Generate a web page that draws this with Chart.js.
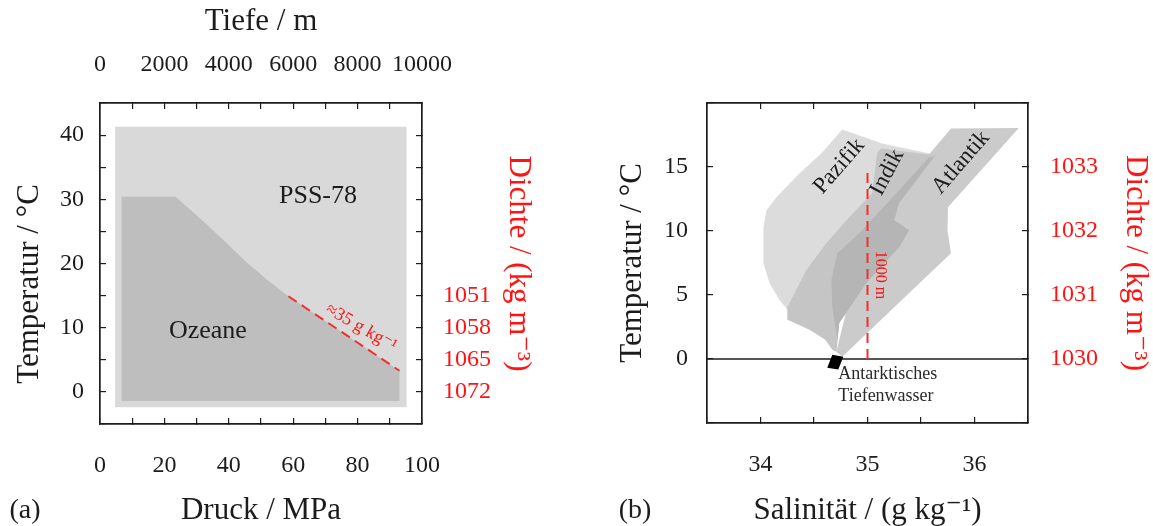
<!DOCTYPE html>
<html>
<head>
<meta charset="utf-8">
<script src="https://cdn.jsdelivr.net/npm/chart.js@4.4.1/dist/chart.umd.min.js"></script>
<style>
  html, body { margin: 0; padding: 0; background: #ffffff; }
  #wrap { position: relative; width: 1153px; height: 526px; }
  canvas { position: absolute; top: 0; }
  #chartA { left: 0; }
  #chartB { left: 576px; }
</style>
</head>
<body>
<div id="wrap">
  <canvas id="chartA" width="576" height="526"></canvas>
  <canvas id="chartB" width="577" height="526"></canvas>
</div>
<script>
// ---------- (a) validity range of PSS-78 vs. conditions in the oceans ----------
const pressureLabels = [0, 20, 40, 60, 80, 100];            // MPa
const depthLabels = [0, 2000, 4000, 6000, 8000, 10000];     // m
const tempLabelsA = [0, 10, 20, 30, 40];                    // °C
const densityTempsA = [0, 5, 10, 15];                       // °C positions of density labels
const densityValuesA = [1072, 1065, 1058, 1051];            // kg m^-3

const pssPressure = [4.7, 95.2, 95.2, 4.7];
const pssTemp = [-2.4, -2.4, 41.3, 41.3];

const oceanPressure = [6.7, 93.0, 93.0, 58.5, 51.8, 45.5, 39.3, 33.1, 27.9, 23.5, 6.7];
const oceanTemp = [-1.4, -1.4, 3.3, 14.9, 17.5, 20.2, 23.2, 26.1, 28.4, 30.4, 30.4];

const isohalinePressure = [58.5, 93.0];
const isohalineTemp = [14.9, 3.3];

// ---------- (b) T–S envelopes of the three oceans ----------
const salinityLabels = [34, 35, 36];                        // g kg^-1
const tempLabelsB = [0, 5, 10, 15];                         // °C
const densityTempsB = [0, 5, 10, 15];
const densityValuesB = [1030, 1031, 1032, 1033];

const pacificS = [34.764, 35.137, 35.622, 35.295, 34.923, 34.736, 34.708, 34.606, 34.438, 34.252,
                  34.252, 34.177, 34.084, 34.028, 34.028, 34.056, 34.149, 34.363, 34.568];
const pacificT = [17.92, 16.83, 15.98, 12.40, 7.73, 3.06, 0.57, 1.50, 2.51, 3.06,
                  3.84, 4.61, 5.94, 7.49, 10.30, 11.62, 12.63, 14.50, 16.05];

const atlanticS = [35.780, 36.414, 35.752, 35.743, 35.752, 35.780, 34.764, 34.708, 34.923, 35.575];
const atlanticT = [18.00, 18.04, 11.86, 11.08, 10.06, 8.27, 0.18, 0.57, 7.73, 15.98];

const indianS = [35.090, 35.128, 35.640, 35.295, 35.249, 35.389, 35.295, 34.988, 34.736, 34.708,
                 34.671, 34.606, 34.457, 34.252, 34.252, 34.429, 34.615, 34.829, 35.044];
const indianT = [16.10, 16.44, 15.90, 12.18, 10.84, 10.06, 8.74, 5.94, 2.82, 0.57,
                 0.72, 1.50, 2.28, 3.06, 4.07, 6.95, 9.05, 11.07, 12.95];

const overlapS = [35.575, 35.622, 35.295, 35.249, 35.389, 35.295, 34.988, 34.736, 34.708,
                  34.718, 34.671, 34.662, 34.718, 34.923, 35.295];
const overlapT = [15.74, 15.82, 12.18, 10.84, 10.06, 8.74, 5.94, 2.82, 0.57,
                  1.50, 4.07, 6.17, 8.27, 9.83, 13.18];

const aabwS = [34.671, 34.774, 34.727, 34.624];
const aabwT = [0.33, 0.18, -0.83, -0.68];

const isobathS = [35, 35];
const isobathT = [0, 14.9];

const freezingRefS = [33.5, 36.5];
const freezingRefT = [0, 0];

// ---------- styling helpers ----------
const SERIF = '"Liberation Serif", "DejaVu Serif", serif';
const INK = '#1c1c1c';
const RED = '#ff1414';

function toPoints(xs, ys, close) {
  const pts = xs.map((x, i) => ({ x: x, y: ys[i] }));
  if (close) pts.push({ x: xs[0], y: ys[0] });
  return pts;
}
function area(xs, ys, color) {
  return {
    data: toPoints(xs, ys, true), showLine: true, fill: 'shape',
    backgroundColor: color, borderColor: 'rgba(0,0,0,0)', borderWidth: 0,
    pointRadius: 0, tension: 0
  };
}
function line(xs, ys, color, width, dash) {
  return {
    data: toPoints(xs, ys, false), showLine: true, fill: false,
    borderColor: color, borderWidth: width, borderDash: dash || [],
    pointRadius: 0, tension: 0
  };
}
// listed back to front; Chart.js paints higher `order` first
function layered(list) {
  return list.map((d, i) => Object.assign(d, { order: list.length - i }));
}
function textLayer(items) {
  return {
    id: 'textLayer',
    afterDatasetsDraw(chart) {
      const { ctx, scales } = chart;
      items.forEach(t => {
        const px = t.canvas ? t.x : scales.x.getPixelForValue(t.x);
        const py = t.canvas ? t.y : scales.y.getPixelForValue(t.y);
        ctx.save();
        ctx.translate(px, py);
        ctx.rotate((t.rotate || 0) * Math.PI / 180);
        ctx.font = t.size + 'px ' + SERIF;
        ctx.fillStyle = t.color || INK;
        ctx.textAlign = t.align || 'center';
        ctx.textBaseline = 'middle';
        ctx.fillText(t.text, 0, 0);
        ctx.restore();
      });
    }
  };
}
const isMember = (list, v) => list.some(u => Math.abs(u - v) < 1e-6);
const grid = { drawOnChartArea: false, color: INK, lineWidth: 1.2, tickLength: -6, z: 1 };
const border = { display: true, color: INK, width: 1.7, z: 1 };
const tickFont = { family: SERIF, size: 24 };
const titleFont = { family: SERIF, size: 31, lineHeight: 1 };

function axis(extra) {
  return Object.assign({ type: 'linear', grid: grid, border: border }, extra);
}
function ticks(extra) {
  return Object.assign({ autoSkip: false, maxRotation: 0, minRotation: 0, font: tickFont, color: INK }, extra);
}
function title(text, color, padding) {
  return { display: true, text: text, color: color, font: titleFont, padding: padding };
}
const base = {
  responsive: false, animation: false, devicePixelRatio: 1,
  layout: { padding: 0 },
  plugins: { legend: { display: false }, tooltip: { enabled: false } }
};

// ---------- chart (a) ----------
new Chart(document.getElementById('chartA'), {
  type: 'scatter',
  data: {
    datasets: layered([
      area(pssPressure, pssTemp, '#d9d9d9'),
      area(oceanPressure, oceanTemp, '#bebebe'),
      line(isohalinePressure, isohalineTemp, '#f03030', 2, [10, 6])
    ])
  },
  options: Object.assign({}, base, {
    scales: {
      x: axis({
        axis: 'x', position: 'bottom', min: 0, max: 100,
        afterFit: s => { s.height = 102; },
        ticks: ticks({ stepSize: 10, padding: 33, callback: v => isMember(pressureLabels, v) ? String(v) : '' }),
        title: title('Druck / MPa', INK, { top: 0, bottom: 0 })
      }),
      xTop: axis({
        axis: 'x', position: 'top', min: 0, max: 10000,
        afterFit: s => { s.height = 103; },
        ticks: ticks({ stepSize: 1000, padding: 30, callback: v => isMember(depthLabels, v) ? String(v) : '' }),
        title: title('Tiefe / m', INK, { top: 6, bottom: 0 })
      }),
      y: axis({
        axis: 'y', position: 'left', min: -5, max: 45,
        afterFit: s => { s.width = 100; },
        ticks: ticks({ stepSize: 5, padding: 22, callback: v => isMember(tempLabelsA, v) ? String(v) : '' })
      }),
      yRight: axis({
        axis: 'y', position: 'right', min: -5, max: 45,
        afterFit: s => { s.width = 154; },
        ticks: ticks({ stepSize: 5, padding: 27, color: RED, callback: v => {
          const i = densityTempsA.findIndex(u => Math.abs(u - v) < 1e-6);
          return i < 0 ? '' : String(densityValuesA[i]);
        } }),
        title: title('Dichte / (kg m⁻³)', RED, { top: 42, bottom: 0 })
      })
    }
  }),
  plugins: [textLayer([
    { text: 'Temperatur / °C', canvas: true, x: 30, y: 284, size: 31, rotate: -90 },
    { text: 'PSS-78', x: 67.7, y: 30.5, size: 26 },
    { text: 'Ozeane', x: 33.5, y: 9.5, size: 26 },
    { text: '≈35 g kg⁻¹', x: 81.1, y: 10.0, size: 18, rotate: 30, color: RED },
    { text: '(a)', canvas: true, x: 25, y: 511, size: 28 }
  ])]
});

// ---------- chart (b) ----------
new Chart(document.getElementById('chartB'), {
  type: 'scatter',
  data: {
    datasets: layered([
      area(pacificS, pacificT, '#dcdcdc'),
      area(atlanticS, atlanticT, '#cbcbcb'),
      area(indianS, indianT, '#c5c5c5'),
      area(overlapS, overlapT, '#b5b5b5'),
      line(freezingRefS, freezingRefT, INK, 1.6),
      area(aabwS, aabwT, '#000000'),
      line(isobathS, isobathT, '#f03030', 2, [10, 6])
    ])
  },
  options: Object.assign({}, base, {
    scales: {
      x: axis({
        axis: 'x', position: 'bottom', min: 33.5, max: 36.5,
        afterFit: s => { s.height = 103; },
        ticks: ticks({ stepSize: 0.5, padding: 33, callback: v => isMember(salinityLabels, v) ? String(v) : '' }),
        title: title('Salinität / (g kg⁻¹)', INK, { top: 0, bottom: 0 })
      }),
      xTop: axis({
        axis: 'x', position: 'top', min: 33.5, max: 36.5,
        afterFit: s => { s.height = 103; },
        ticks: ticks({ stepSize: 0.5, padding: 30, callback: () => '' })
      }),
      y: axis({
        axis: 'y', position: 'left', min: -5, max: 20,
        afterFit: s => { s.width = 131; },
        ticks: ticks({ stepSize: 5, padding: 25, callback: v => isMember(tempLabelsB, v) ? String(v) : '' }),
        title: title('Temperatur / °C', INK, { top: 41, bottom: 0 })
      }),
      yRight: axis({
        axis: 'y', position: 'right', min: -5, max: 20,
        afterFit: s => { s.width = 125; },
        ticks: ticks({ stepSize: 5, padding: 28, color: RED, callback: v => {
          const i = densityTempsB.findIndex(u => Math.abs(u - v) < 1e-6);
          return i < 0 ? '' : String(densityValuesB[i]);
        } }),
        title: title('Dichte / (kg m⁻³)', RED, { top: 2, bottom: 0 })
      })
    }
  }),
  plugins: [textLayer([
    { text: 'Pazifik', x: 34.736, y: 15.06, size: 23, rotate: -49 },
    { text: 'Indik', x: 35.184, y: 14.58, size: 23, rotate: -62 },
    { text: 'Atlantik', x: 35.873, y: 15.35, size: 23, rotate: -49 },
    { text: '1000 m', x: 35.118, y: 6.56, size: 16, rotate: 90, color: RED },
    { text: 'Antarktisches', x: 34.727, y: -1.22, size: 18, align: 'left', color: '#2a2a2a' },
    { text: 'Tiefenwasser', x: 34.727, y: -2.95, size: 18, align: 'left', color: '#2a2a2a' },
    { text: '(b)', canvas: true, x: 59, y: 511, size: 28 }
  ])]
});
</script>
</body>
</html>
